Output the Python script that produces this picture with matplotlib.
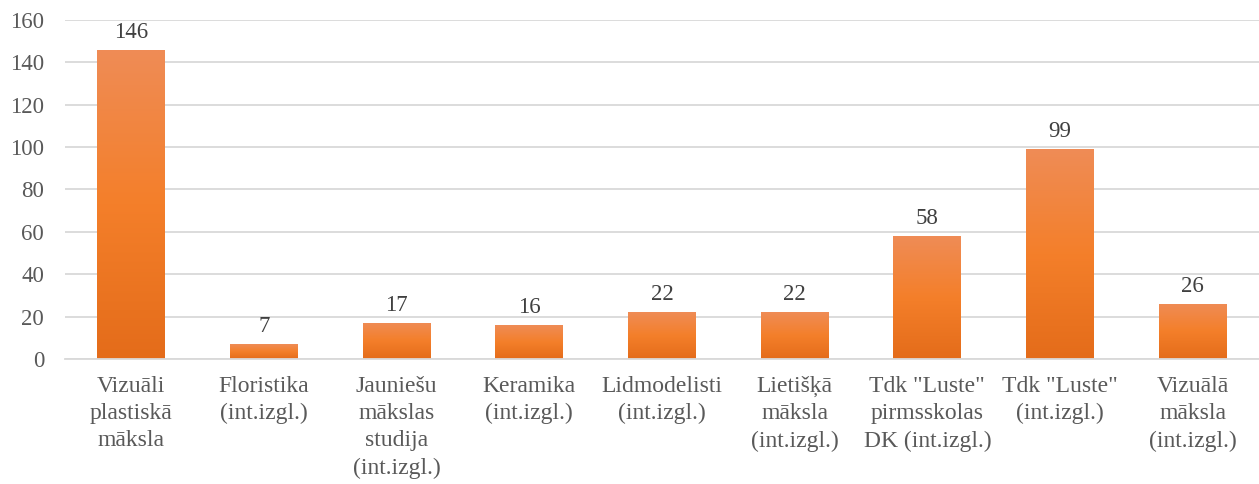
import matplotlib.pyplot as plt
import numpy as np
from matplotlib.colors import LinearSegmentedColormap

# dati
kategorijas = ["Vizuāli\nplastiskā\nmāksla", "Floristika\n(int.izgl.)",
               "Jauniešu\nmākslas\nstudija\n(int.izgl.)", "Keramika\n(int.izgl.)",
               "Lidmodelisti\n(int.izgl.)", "Lietišķā\nmāksla\n(int.izgl.)",
               "Tdk \"Luste\"\npirmsskolas\nDK (int.izgl.)", "Tdk \"Luste\"\n(int.izgl.)",
               "Vizuālā\nmāksla\n(int.izgl.)"]
vertibas = [146, 7, 17, 16, 22, 22, 58, 99, 26]

plt.rcParams['font.family'] = ['Liberation Serif', 'DejaVu Serif']

fig = plt.figure(figsize=(12.59, 4.84), dpi=100)
ax = fig.add_axes([0.0516, 0.2583, 0.9484, 0.7004])

x = np.arange(len(vertibas))
platums = 0.51
stabini = ax.bar(x, vertibas, width=platums, color="#ED7D31", zorder=2)

# gradients katram stabiņam (augšā gaišāks, apakšā tumšāks)
cmap = LinearSegmentedColormap.from_list("oranzs", ["#E46C1A", "#F47F2A", "#EF8C56"])
grad = np.linspace(0, 1, 256).reshape(-1, 1)
for b in stabini:
    x0, y0 = b.get_x(), b.get_y()
    w, h = b.get_width(), b.get_height()
    img = ax.imshow(grad, cmap=cmap, aspect="auto", origin="lower",
                    extent=(x0, x0 + w, y0, y0 + h), zorder=2.5)
    img.set_clip_path(b)

for xi, v in zip(x, vertibas):
    ax.annotate(str(v), (xi, v), xytext=(0, 5), textcoords="offset points",
                ha="center", va="bottom", fontsize=16.5, color="#404040")

ax.set_xlim(-0.5, len(vertibas) - 0.5)
ax.set_ylim(0, 160)
ax.set_yticks(range(0, 161, 20))
ax.set_xticks(x)
ax.set_xticklabels(kategorijas, linespacing=1.4)
ax.tick_params(axis="x", length=0, pad=12, labelsize=17, labelcolor="#595959")
ax.tick_params(axis="y", length=0, pad=15, labelsize=16.5, labelcolor="#595959")
ax.grid(axis="y", color="#D9D9D9", lw=1.3, zorder=0)
for s in ["top", "right", "left"]:
    ax.spines[s].set_visible(False)
ax.spines["bottom"].set_color("#D9D9D9")
ax.spines["bottom"].set_linewidth(1.3)

fig.savefig("out.png", dpi=100)
